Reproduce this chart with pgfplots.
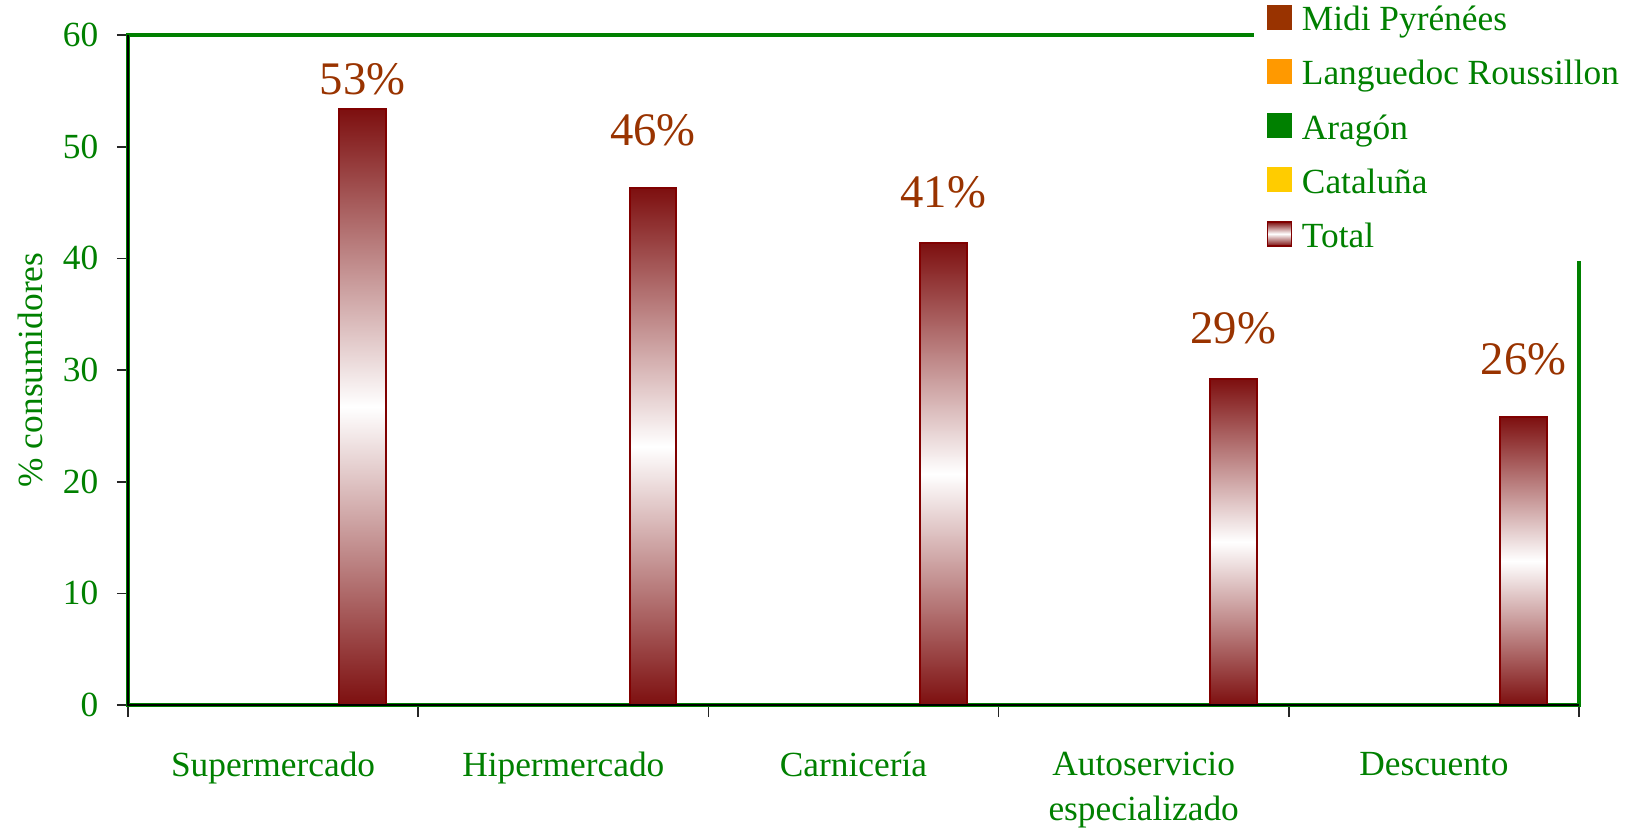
\documentclass[border=0pt]{standalone}
\usepackage{pgfplots}
\pgfplotsset{compat=1.18}
\usepackage{fontspec}
\setmainfont{Liberation Serif}
\definecolor{xlgreen}{HTML}{008000}
\definecolor{labbrown}{HTML}{993300}
\definecolor{midi}{HTML}{993300}
\definecolor{langue}{HTML}{FF9900}
\definecolor{aragon}{HTML}{008000}
\definecolor{catal}{HTML}{FFCC00}
\definecolor{darkred}{HTML}{800000}
\definecolor{barred}{RGB}{125,15,15}
\begin{document}
\begin{tikzpicture}
\useasboundingbox (-38.4pt,-37.8pt) rectangle (449.4pt,211.5pt);
\begin{axis}[
  scale only axis, width=435.3pt, height=201pt,
  xmin=-0.5, xmax=4.5, ymin=0, ymax=60,
  ytick={0,10,...,60},
  xtick={0,1,2,3,4},
  xticklabels={Supermercado, Hipermercado, Carnicería, {Autoservicio\\especializado}, Descuento},
  minor xtick={-0.5,0.5,1.5,2.5,3.5,4.5},
  tick align=outside, tick pos=left,
  major tick length=3.3pt, minor tick length=3.6pt,
  tick style={black!85, line width=0.5pt},
  major x tick style={draw=none},
  axis line style={draw=xlgreen, line width=1pt},
  tick label style={text=xlgreen, font=\fontsize{10.6}{13.5}\selectfont},
  /pgf/number format/assume math mode=true,
  xticklabel style={align=center, anchor=north, yshift=-7.3pt},
  yticklabel style={xshift=-2.1pt},
  ylabel={\% consumidores},
  every axis y label/.style={at={(rel axis cs:0,0.5)}, xshift=-29.4pt, rotate=90, anchor=center, text=xlgreen, font=\fontsize{10.6}{13}\selectfont},
  legend style={at={(rel axis cs:0.7753,0.6612)}, anchor=south west, draw=none, fill=white,
    inner xsep=3.9pt, inner ysep=4.2pt, font=\fontsize{10.6}{13}\selectfont, text=xlgreen,
    row sep=8.4pt, nodes={inner sep=0pt, text height=7.5pt, text depth=0pt},
    /tikz/every odd column/.append style={column sep=3pt}},
  legend cell align=left,
  legend image code/.code={\draw[#1] (0pt,-3.3pt) rectangle (7.2pt,3.9pt);},
  after end axis/.code={\draw[black, line width=0.5pt] (rel axis cs:0,1) -- (rel axis cs:0,0) -- (rel axis cs:1,0);},
  totalbar/.style={forget plot, ybar, bar width=0.161, bar shift=0.309, draw=darkred, line width=0.6pt,
    top color=barred, bottom color=barred, middle color=white},
]
\addplot[totalbar] coordinates {(0,53.4)};
\addplot[totalbar] coordinates {(1,46.3)};
\addplot[totalbar] coordinates {(2,41.4)};
\addplot[totalbar] coordinates {(3,29.2)};
\addplot[totalbar] coordinates {(4,25.8)};
\addplot[forget plot, draw=none, mark=none, nodes near coords, point meta=explicit symbolic,
  every node near coord/.append style={anchor=south, inner sep=0pt, text=labbrown, font=\fontsize{14}{16}\selectfont}]
  coordinates {(0.309,54.6) [53\%] (1.309,50.0) [46\%] (2.309,44.4) [41\%] (3.309,32.3) [29\%] (4.309,29.5) [26\%]};
\addlegendimage{fill=midi, draw=midi}
\addlegendentry{Midi Pyrénées}
\addlegendimage{fill=langue, draw=langue}
\addlegendentry{Languedoc Roussillon}
\addlegendimage{fill=aragon, draw=aragon}
\addlegendentry{Aragón}
\addlegendimage{fill=catal, draw=catal}
\addlegendentry{Cataluña}
\addlegendimage{draw=darkred, top color=barred, bottom color=barred, middle color=white}
\addlegendentry{Total}
\end{axis}
\end{tikzpicture}
\end{document}
